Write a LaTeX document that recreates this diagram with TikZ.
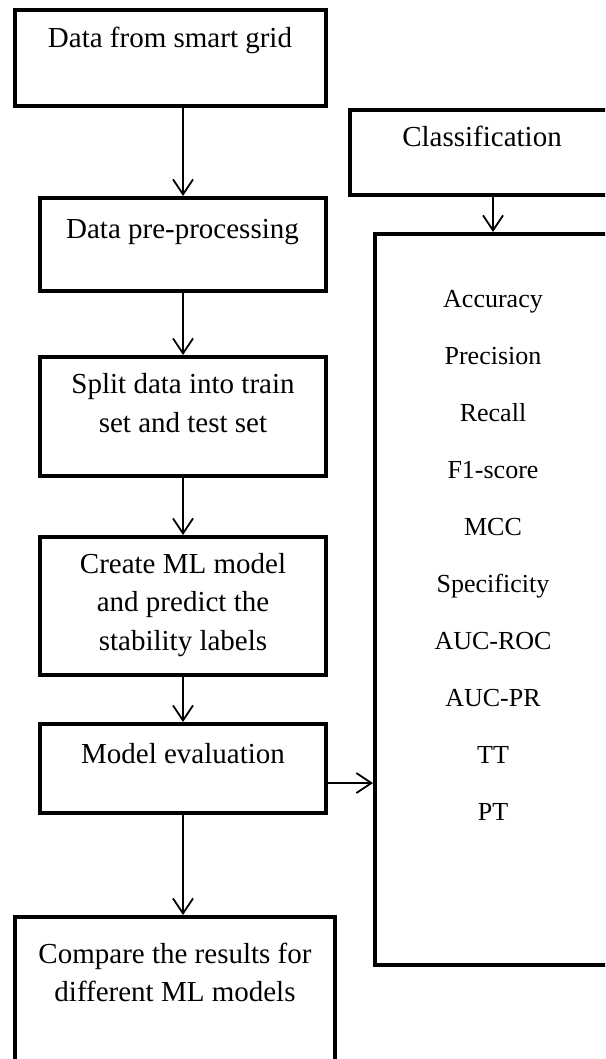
\documentclass[tikz,border=0pt]{standalone}
\usepackage{fontspec}
\setmainfont{Liberation Serif}
\usetikzlibrary{arrows.meta}
\newcommand\bigtxt{\fontsize{29}{38.5}\selectfont}
\newcommand\smalltxt{\fontsize{26}{30}\selectfont}
\begin{document}
\begin{tikzpicture}[x=1pt,y=-1pt,
  boxst/.style={draw=black,line width=4pt,rectangle,inner sep=0pt,fill=none},
  txt/.style={font=\bigtxt,anchor=base,inner sep=0pt},
  met/.style={font=\smalltxt,anchor=base,inner sep=0pt},
  arr/.style={draw=black,line width=1.8pt,-{Straight Barb[length=15pt,width=20pt,line width=1.8pt]}}]
\useasboundingbox (0,0) rectangle (605,1059);
\clip (0,0) rectangle (605,1059);
% boxes
\node[boxst,minimum width=311pt,minimum height=96pt] (b1) at (170.5,58) {};
\node[boxst,minimum width=286pt,minimum height=93pt] (b2) at (183,244.5) {};
\node[boxst,minimum width=286pt,minimum height=119pt] (b3) at (183,416.5) {};
\node[boxst,minimum width=286pt,minimum height=138pt] (b4) at (183,606) {};
\node[boxst,minimum width=286pt,minimum height=89pt] (b5) at (183,768.5) {};
\node[boxst,minimum width=320pt,minimum height=161pt] (b6) at (175,997.5) {};
\node[boxst,minimum width=264pt,minimum height=85pt] (cls) at (482,152.5) {};
\node[boxst,minimum width=236pt,minimum height=731pt] (big) at (493,599.5) {};
% texts
\node[txt] (t1) at (170,48) {Data from smart grid};
\node[txt] (t2) at (182.5,239) {Data pre-processing};
\node[txt] (t3a) at (183,393.5) {Split data into train};
\node[txt] (t3b) at (183,432) {set and test set};
\node[txt] (t4a) at (183,573) {Create ML model};
\node[txt] (t4b) at (183,611.5) {and predict the};
\node[txt] (t4c) at (183,650) {stability labels};
\node[txt] (t5) at (183,763) {Model evaluation};
\node[txt] (t6a) at (175,963) {Compare the results for};
\node[txt] (t6b) at (175,1001.5) {different ML models};
\node[txt] (tc) at (482,147) {Classification};
\node[met] (m1) at (493,307) {Accuracy};
\node[met] (m2) at (493,364) {Precision};
\node[met] (m3) at (493,421) {Recall};
\node[met] (m4) at (493,478) {F1-score};
\node[met] (m5) at (493,535) {MCC};
\node[met] (m6) at (493,592) {Specificity};
\node[met] (m7) at (493,649) {AUC-ROC};
\node[met] (m8) at (493,706) {AUC-PR};
\node[met] (m9) at (493,763) {TT};
\node[met] (m10) at (493,820) {PT};
% connectors
\draw[arr] (b1.south -| b2.north) -- (b2.north);
\draw[arr] (b2.south) -- (b3.north);
\draw[arr] (b3.south) -- (b4.north);
\draw[arr] (b4.south) -- (b5.north);
\draw[arr] (b5.south) -- (b5.south |- b6.north);
\coordinate (e1) at (b5.east |- 0,783);
\draw[arr] (e1) -- (e1 -| big.west);
\draw[arr] (cls.south -| big.north) -- (big.north);
\end{tikzpicture}
\end{document}
